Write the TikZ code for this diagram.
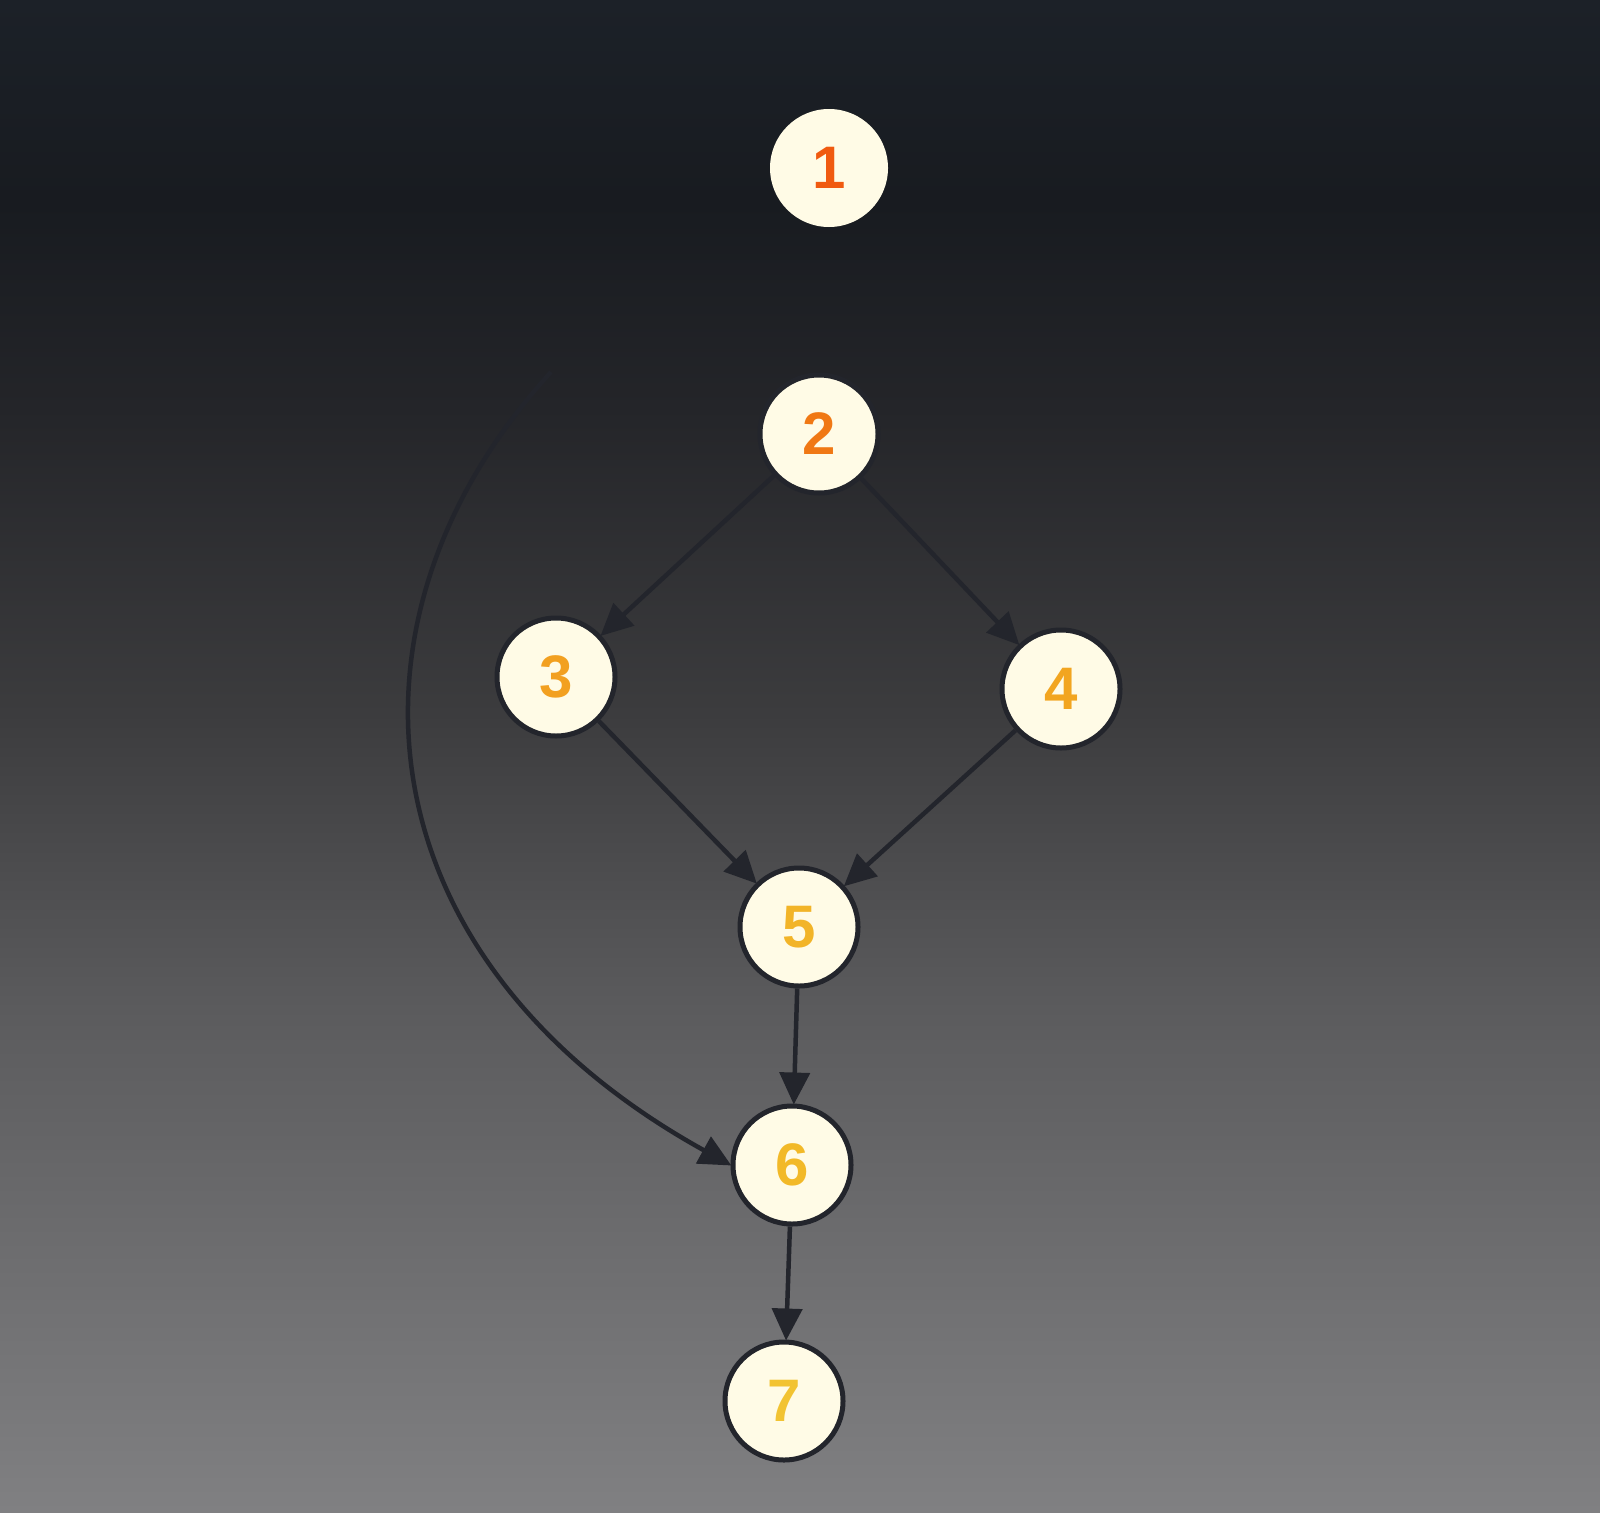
\documentclass[tikz,border=0pt]{standalone}
\usepackage{fontspec}
\setmainfont{Liberation Sans}
\usetikzlibrary{arrows.meta}
\definecolor{cream}{HTML}{FFFBE6}
\definecolor{edge}{HTML}{23252C}
\pgfdeclareverticalshading{bgshade}{100bp}{
  color(0bp)=(rgb,255:red,128;green,128;blue,130);
  color(25bp)=(rgb,255:red,128;green,128;blue,130);
  color(41.3bp)=(rgb,255:red,92;green,92;blue,94);
  color(51.4bp)=(rgb,255:red,60;green,60;blue,62);
  color(61.5bp)=(rgb,255:red,36;green,37;blue,41);
  color(68.3bp)=(rgb,255:red,24;green,27;blue,32);
  color(75bp)=(rgb,255:red,28;green,33;blue,40);
  color(100bp)=(rgb,255:red,28;green,33;blue,40)}
\tikzset{
  vtx/.style={circle, minimum size=118pt, inner sep=0pt, fill=cream, draw=edge, line width=5pt,
    font=\bfseries\fontsize{60}{60}\selectfont},
  conn/.style={draw=edge, line width=4.5pt, -{Triangle[length=32pt,width=30pt]}, shorten >=-1pt},
}
\begin{document}
\begin{tikzpicture}[x=1pt,y=-1pt]
\shade[shading=bgshade] (0,0) rectangle (1600,1512);
\useasboundingbox (0,0) rectangle (1600,1512);
\node[vtx, draw=none, text={rgb,255:red,240;green,90;blue,16}] (n1) at (829,168) {1};
\node[vtx, text={rgb,255:red,240;green,120;blue,20}] (n2) at (819,434) {2};
\node[vtx, text={rgb,255:red,242;green,160;blue,32}] (n3) at (556,677) {3};
\node[vtx, text={rgb,255:red,242;green,165;blue,32}] (n4) at (1061,689) {4};
\node[vtx, text={rgb,255:red,242;green,180;blue,40}] (n5) at (799,927) {5};
\node[vtx, text={rgb,255:red,242;green,185;blue,40}] (n6) at (792,1165) {6};
\node[vtx, text={rgb,255:red,242;green,195;blue,50}] (n7) at (784,1401) {7};
\coordinate (cs) at (551,372);
\draw[conn] (n2) -- (n3);
\draw[conn] (n2) -- (n4);
\draw[conn] (n3) -- (n5);
\draw[conn] (n4) -- (n5);
\draw[conn] (n5) -- (n6);
\draw[conn] (n6) -- (n7);
\draw[conn] (cs) .. controls (325,620) and (360,960) .. (n6.west);
\end{tikzpicture}
\end{document}
